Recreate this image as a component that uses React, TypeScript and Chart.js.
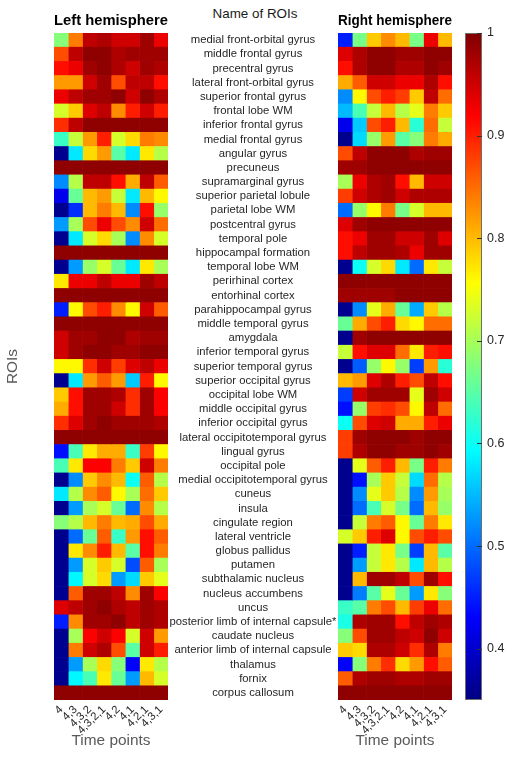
import React, { useEffect, useRef } from "react";
import { Chart, registerables } from "chart.js";

Chart.register(...registerables);
Chart.defaults.font.family = '"Liberation Sans", Arial, Helvetica, sans-serif';

const ROIS = [
  "medial front-orbital gyrus",
  "middle frontal gyrus",
  "precentral gyrus",
  "lateral front-orbital gyrus",
  "superior frontal gyrus",
  "frontal lobe WM",
  "inferior frontal gyrus",
  "medial frontal gyrus",
  "angular gyrus",
  "precuneus",
  "supramarginal gyrus",
  "superior parietal lobule",
  "parietal lobe WM",
  "postcentral gyrus",
  "temporal pole",
  "hippocampal formation",
  "temporal lobe WM",
  "perirhinal cortex",
  "entorhinal cortex",
  "parahippocampal gyrus",
  "middle temporal gyrus",
  "amygdala",
  "inferior temporal gyrus",
  "superior temporal gyrus",
  "superior occipital gyrus",
  "occipital lobe WM",
  "middle occipital gyrus",
  "inferior occipital gyrus",
  "lateral occipitotemporal gyrus",
  "lingual gyrus",
  "occipital pole",
  "medial occipitotemporal gyrus",
  "cuneus",
  "insula",
  "cingulate region",
  "lateral ventricle",
  "globus pallidus",
  "putamen",
  "subthalamic nucleus",
  "nucleus accumbens",
  "uncus",
  "posterior limb of internal capsule*",
  "caudate nucleus",
  "anterior limb of internal capsule",
  "thalamus",
  "fornix",
  "corpus callosum",
];

const TIME_POINTS = ["4", "4,3", "4,3,2", "4,3,2,1", "4,2", "4,1", "4,2,1", "4,3,1"];

const COLORBAR_TICKS = [0.4, 0.5, 0.6, 0.7, 0.8, 0.9, 1];
const V_MIN = 0.35;
const V_MAX = 1;

const LEFT_VALUES = [
  [0.68, 0.84, 0.96, 0.97, 0.95, 0.95, 0.98, 0.93],
  [0.87, 0.96, 0.99, 0.99, 0.97, 0.98, 0.98, 0.98],
  [0.91, 0.93, 0.98, 0.99, 0.97, 0.95, 0.98, 0.97],
  [0.82, 0.82, 0.95, 0.98, 0.87, 0.96, 0.96, 0.91],
  [0.93, 0.96, 0.98, 0.98, 0.99, 0.95, 0.99, 0.97],
  [0.73, 0.79, 0.94, 0.96, 0.83, 0.9, 0.95, 0.9],
  [0.89, 0.96, 0.99, 0.99, 0.99, 0.99, 0.99, 0.99],
  [0.63, 0.72, 0.82, 0.9, 0.73, 0.78, 0.84, 0.83],
  [0.36, 0.58, 0.78, 0.82, 0.65, 0.58, 0.77, 0.71],
  [0.99, 0.99, 0.99, 0.99, 0.99, 0.99, 0.99, 0.99],
  [0.52, 0.71, 0.96, 0.96, 0.91, 0.81, 0.96, 0.86],
  [0.42, 0.66, 0.8, 0.82, 0.72, 0.58, 0.8, 0.76],
  [0.36, 0.46, 0.8, 0.84, 0.8, 0.52, 0.91, 0.69],
  [0.53, 0.7, 0.87, 0.93, 0.87, 0.83, 0.95, 0.85],
  [0.36, 0.58, 0.73, 0.78, 0.7, 0.52, 0.83, 0.73],
  [0.99, 0.99, 0.99, 0.99, 0.99, 0.99, 0.99, 0.99],
  [0.36, 0.53, 0.69, 0.73, 0.66, 0.58, 0.77, 0.7],
  [0.77, 0.93, 0.93, 0.96, 0.93, 0.93, 0.98, 0.96],
  [0.99, 0.99, 0.99, 0.99, 0.99, 0.99, 0.99, 0.99],
  [0.45, 0.76, 0.87, 0.9, 0.83, 0.76, 0.95, 0.86],
  [0.99, 0.99, 0.99, 0.99, 0.99, 0.99, 0.99, 0.99],
  [0.95, 0.98, 0.98, 0.99, 0.99, 0.97, 0.98, 0.98],
  [0.95, 0.98, 0.99, 0.99, 0.98, 0.98, 0.99, 0.99],
  [0.76, 0.76, 0.89, 0.95, 0.88, 0.94, 0.96, 0.93],
  [0.36, 0.58, 0.82, 0.86, 0.82, 0.56, 0.9, 0.76],
  [0.79, 0.91, 0.98, 0.98, 0.97, 0.89, 0.98, 0.92],
  [0.81, 0.91, 0.98, 0.98, 0.95, 0.89, 0.98, 0.92],
  [0.89, 0.94, 0.98, 0.99, 0.98, 0.98, 0.98, 0.97],
  [0.99, 0.99, 0.99, 0.99, 0.99, 0.99, 0.99, 0.99],
  [0.44, 0.64, 0.77, 0.81, 0.81, 0.63, 0.88, 0.76],
  [0.64, 0.77, 0.92, 0.92, 0.84, 0.79, 0.95, 0.84],
  [0.36, 0.52, 0.79, 0.83, 0.8, 0.6, 0.86, 0.71],
  [0.58, 0.71, 0.83, 0.86, 0.76, 0.7, 0.85, 0.79],
  [0.36, 0.53, 0.7, 0.73, 0.66, 0.5, 0.83, 0.71],
  [0.68, 0.71, 0.8, 0.84, 0.8, 0.81, 0.87, 0.81],
  [0.36, 0.5, 0.66, 0.86, 0.63, 0.82, 0.91, 0.86],
  [0.36, 0.77, 0.83, 0.9, 0.8, 0.65, 0.91, 0.84],
  [0.36, 0.53, 0.73, 0.79, 0.73, 0.48, 0.86, 0.7],
  [0.36, 0.59, 0.73, 0.78, 0.53, 0.57, 0.79, 0.74],
  [0.36, 0.86, 0.98, 0.98, 0.96, 0.83, 0.98, 0.92],
  [0.94, 0.96, 0.98, 0.99, 0.97, 0.96, 0.98, 0.97],
  [0.45, 0.83, 0.98, 0.98, 0.99, 0.96, 0.98, 0.97],
  [0.36, 0.7, 0.92, 0.95, 0.92, 0.73, 0.95, 0.82],
  [0.36, 0.84, 0.95, 0.97, 0.87, 0.65, 0.95, 0.9],
  [0.36, 0.53, 0.7, 0.78, 0.68, 0.43, 0.77, 0.71],
  [0.36, 0.59, 0.64, 0.77, 0.66, 0.53, 0.8, 0.73],
  [0.99, 0.99, 0.99, 0.99, 0.99, 0.99, 0.99, 0.99],
];

const RIGHT_VALUES = [
  [0.45, 0.67, 0.79, 0.83, 0.8, 0.67, 0.93, 0.8],
  [0.94, 0.97, 0.99, 0.99, 0.98, 0.98, 0.99, 0.99],
  [0.91, 0.97, 0.99, 0.99, 0.97, 0.97, 0.99, 0.98],
  [0.81, 0.86, 0.95, 0.95, 0.93, 0.93, 0.97, 0.91],
  [0.52, 0.76, 0.87, 0.9, 0.88, 0.79, 0.96, 0.85],
  [0.55, 0.64, 0.72, 0.8, 0.71, 0.74, 0.84, 0.79],
  [0.42, 0.56, 0.87, 0.9, 0.8, 0.62, 0.85, 0.72],
  [0.36, 0.57, 0.69, 0.82, 0.65, 0.68, 0.84, 0.81],
  [0.87, 0.96, 0.99, 0.99, 0.99, 0.97, 0.98, 0.98],
  [0.98, 0.98, 0.99, 0.99, 0.99, 0.99, 0.99, 0.99],
  [0.7, 0.93, 0.97, 0.98, 0.91, 0.8, 0.95, 0.95],
  [0.88, 0.95, 0.97, 0.98, 0.95, 0.97, 0.97, 0.97],
  [0.5, 0.69, 0.76, 0.84, 0.67, 0.73, 0.8, 0.8],
  [0.94, 0.98, 0.99, 0.99, 0.99, 0.99, 0.99, 0.99],
  [0.91, 0.93, 0.98, 0.98, 0.95, 0.95, 0.98, 0.94],
  [0.91, 0.96, 0.98, 0.98, 0.97, 0.93, 0.98, 0.98],
  [0.36, 0.6, 0.73, 0.78, 0.58, 0.5, 0.77, 0.72],
  [0.99, 0.99, 0.99, 0.99, 0.99, 0.99, 0.99, 0.99],
  [0.98, 0.98, 0.98, 0.98, 0.99, 0.99, 0.99, 0.99],
  [0.36, 0.52, 0.74, 0.81, 0.66, 0.54, 0.79, 0.71],
  [0.66, 0.81, 0.87, 0.9, 0.78, 0.76, 0.85, 0.85],
  [0.36, 0.98, 0.99, 0.99, 0.99, 0.99, 0.99, 0.99],
  [0.72, 0.91, 0.94, 0.94, 0.85, 0.77, 0.9, 0.91],
  [0.36, 0.49, 0.69, 0.76, 0.69, 0.47, 0.82, 0.62],
  [0.8, 0.82, 0.94, 0.97, 0.9, 0.87, 0.96, 0.91],
  [0.47, 0.95, 0.98, 0.98, 0.98, 0.74, 0.98, 0.95],
  [0.44, 0.69, 0.88, 0.89, 0.87, 0.76, 0.96, 0.85],
  [0.6, 0.87, 0.94, 0.95, 0.81, 0.81, 0.9, 0.93],
  [0.88, 0.98, 0.99, 0.99, 0.99, 0.98, 0.99, 0.99],
  [0.88, 0.97, 0.99, 0.99, 0.98, 0.98, 0.99, 0.98],
  [0.36, 0.74, 0.86, 0.9, 0.8, 0.67, 0.9, 0.84],
  [0.36, 0.44, 0.7, 0.79, 0.72, 0.57, 0.85, 0.71],
  [0.36, 0.52, 0.74, 0.79, 0.71, 0.52, 0.82, 0.7],
  [0.36, 0.5, 0.64, 0.73, 0.67, 0.5, 0.8, 0.69],
  [0.36, 0.72, 0.84, 0.86, 0.76, 0.66, 0.84, 0.77],
  [0.73, 0.79, 0.9, 0.94, 0.76, 0.87, 0.9, 0.87],
  [0.36, 0.45, 0.72, 0.77, 0.67, 0.47, 0.8, 0.65],
  [0.36, 0.53, 0.72, 0.77, 0.71, 0.58, 0.8, 0.71],
  [0.36, 0.8, 0.98, 0.98, 0.96, 0.87, 0.98, 0.91],
  [0.36, 0.51, 0.65, 0.74, 0.66, 0.53, 0.77, 0.68],
  [0.63, 0.65, 0.84, 0.87, 0.8, 0.88, 0.93, 0.85],
  [0.61, 0.97, 0.98, 0.98, 0.91, 0.96, 0.98, 0.97],
  [0.68, 0.87, 0.98, 0.98, 0.96, 0.95, 0.99, 0.95],
  [0.79, 0.78, 0.97, 0.97, 0.95, 0.89, 0.97, 0.84],
  [0.43, 0.68, 0.84, 0.89, 0.78, 0.82, 0.91, 0.86],
  [0.86, 0.97, 0.98, 0.98, 0.97, 0.97, 0.98, 0.98],
  [0.99, 0.99, 0.99, 0.99, 0.99, 0.99, 0.99, 0.99],
];

function jet(v: number): string {
  const t = Math.min(1, Math.max(0, (v - V_MIN) / (V_MAX - V_MIN)));
  const c = (x: number) => Math.round(255 * Math.min(1, Math.max(0, 1.5 - Math.abs(4 * t - x))));
  return `rgb(${c(3)},${c(2)},${c(1)})`;
}

const TEXT_DARK = "#262626";
const LABEL_GRAY = "#5a5a5a";

function heatmapConfig(values: number[][], title: string, showNames: boolean, axisWidth: number, canvasWidth: number): any {
  const datasets = TIME_POINTS.map((tp, j) => ({
    label: tp,
    data: ROIS.map(() => [j, j + 1]),
    backgroundColor: values.map((row) => jet(row[j])),
    borderWidth: 0,
    barPercentage: 1,
    categoryPercentage: 1,
    grouped: false,
  }));
  const areaRight = axisWidth + 114;
  return {
    type: "bar",
    data: { labels: ROIS, datasets },
    options: {
      indexAxis: "y",
      responsive: false,
      maintainAspectRatio: false,
      animation: false,
      layout: { padding: { left: 0, right: canvasWidth - areaRight, top: 0, bottom: 3 } },
      scales: {
        x: {
          type: "linear",
          min: 0,
          max: TIME_POINTS.length,
          position: "bottom",
          grid: { display: false, drawTicks: false },
          border: { display: false },
          afterBuildTicks: (s: any) => {
            s.ticks = TIME_POINTS.map((_, i) => ({ value: i + 0.5 }));
          },
          ticks: {
            autoSkip: false,
            minRotation: 45,
            maxRotation: 45,
            padding: 3,
            color: TEXT_DARK,
            font: { size: 11.3 },
            callback: (_v: any, i: number) => TIME_POINTS[i],
          },
          title: {
            display: true,
            text: "Time points",
            color: LABEL_GRAY,
            font: { size: 15.4 },
            padding: { top: 4, bottom: 4 },
          },
          afterFit: (s: any) => {
            s.height = 54;
          },
        },
        y: {
          type: "category",
          position: "left",
          offset: true,
          grid: { display: false, drawTicks: false },
          border: { display: false },
          ticks: showNames
            ? { display: true, autoSkip: false, crossAlign: "center", padding: 1.5, color: TEXT_DARK, font: { size: 11.3 } }
            : { display: false },
          title: showNames
            ? { display: false }
            : { display: true, text: "ROIs", color: LABEL_GRAY, font: { size: 15.4 }, padding: { top: 4, bottom: 4 } },
          afterFit: (s: any) => {
            s.width = axisWidth;
          },
        },
      },
      plugins: {
        legend: { display: false },
        tooltip: { enabled: false },
        title: {
          display: true,
          text: title,
          fullSize: false,
          color: "#000",
          font: { size: 15.4, weight: "bold" },
          padding: { top: 11.5, bottom: 3 },
        },
      },
    },
  };
}

const colorbarFrame = {
  id: "colorbarFrame",
  afterDatasetsDraw(chart: any) {
    const { ctx, chartArea: a, scales } = chart;
    const y = scales.y;
    ctx.save();
    ctx.strokeStyle = "#6e6e6e";
    ctx.lineWidth = 1;
    ctx.strokeRect(a.left + 0.5, a.top + 0.5, a.width - 1, a.height - 1);
    ctx.strokeStyle = "#333";
    ctx.beginPath();
    for (const t of y.ticks) {
      const py = Math.round(y.getPixelForValue(t.value)) + 0.5;
      ctx.moveTo(a.right - 5, py);
      ctx.lineTo(a.right, py);
    }
    ctx.stroke();
    ctx.restore();
  },
};

function colorbarConfig(): any {
  return {
    type: "bar",
    data: {
      labels: ["colorbar"],
      datasets: [
        {
          data: [[V_MIN, V_MAX]],
          backgroundColor: (c: any) => {
            const chart = c.chart;
            const ys = chart.scales && chart.scales.y;
            if (!ys || !chart.chartArea) return jet(0.7);
            const g = chart.ctx.createLinearGradient(0, ys.getPixelForValue(V_MIN), 0, ys.getPixelForValue(V_MAX));
            for (let k = 0; k <= 8; k++) {
              g.addColorStop(k / 8, jet(V_MIN + ((V_MAX - V_MIN) * k) / 8));
            }
            return g;
          },
          borderWidth: 0,
          barPercentage: 1,
          categoryPercentage: 1,
        },
      ],
    },
    options: {
      responsive: false,
      maintainAspectRatio: false,
      animation: false,
      layout: { padding: { left: 25, right: 0, top: 33, bottom: 57 } },
      scales: {
        x: { display: false },
        y: {
          type: "linear",
          position: "right",
          min: V_MIN,
          max: V_MAX,
          grid: { display: false, drawTicks: false },
          border: { display: false },
          afterBuildTicks: (s: any) => {
            s.ticks = COLORBAR_TICKS.map((value) => ({ value }));
          },
          ticks: {
            padding: 5,
            color: TEXT_DARK,
            font: { size: 12.5 },
            callback: (v: any) => String(v),
          },
          afterFit: (s: any) => {
            s.width = 30;
          },
        },
      },
      plugins: { legend: { display: false }, tooltip: { enabled: false }, title: { display: false } },
    },
    plugins: [colorbarFrame],
  };
}

export default function App() {
  const leftRef = useRef<HTMLCanvasElement>(null);
  const rightRef = useRef<HTMLCanvasElement>(null);
  const cbRef = useRef<HTMLCanvasElement>(null);

  useEffect(() => {
    const charts = [
      new Chart(leftRef.current as HTMLCanvasElement, heatmapConfig(LEFT_VALUES, "Left hemisphere", false, 54, 180)),
      new Chart(rightRef.current as HTMLCanvasElement, heatmapConfig(RIGHT_VALUES, "Right hemisphere", true, 188, 318)),
      new Chart(cbRef.current as HTMLCanvasElement, colorbarConfig()),
    ];
    return () => charts.forEach((c) => c.destroy());
  }, []);

  return (
    <div style={{ position: "absolute", left: 0, top: 0, width: 512, height: 757, background: "#fff", overflow: "hidden" }}>
      <div
        style={{
          position: "absolute",
          left: 155,
          top: 5.5,
          width: 200,
          textAlign: "center",
          font: '13.4px "Liberation Sans", Arial, sans-serif',
          lineHeight: "16px",
          color: "#1a1a1a",
        }}
      >
        Name of ROIs
      </div>
      <canvas ref={leftRef} width={180} height={757} style={{ position: "absolute", left: 0, top: 0 }} />
      <canvas ref={rightRef} width={318} height={757} style={{ position: "absolute", left: 150, top: 0 }} />
      <canvas ref={cbRef} width={72} height={757} style={{ position: "absolute", left: 440, top: 0 }} />
    </div>
  );
}
